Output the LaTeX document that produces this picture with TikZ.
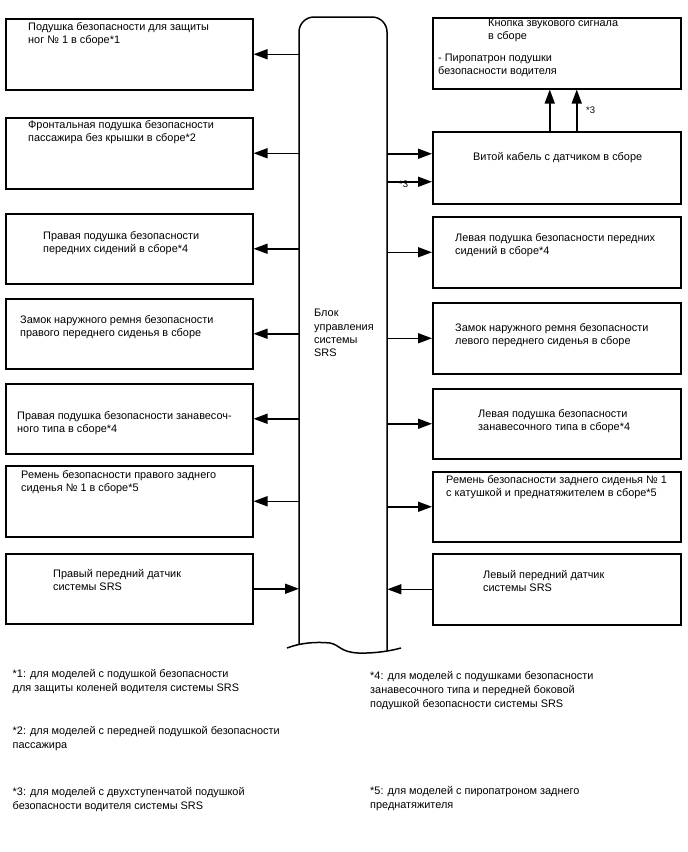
\documentclass[tikz,border=0pt]{standalone}
\usepackage{fontspec}
\setmainfont{Liberation Sans}
\usetikzlibrary{arrows.meta}
\begin{document}
\begin{tikzpicture}[x=1pt,y=-1pt,
  box/.style={draw, line width=1.5pt, rectangle, inner sep=0pt, anchor=north west},
  lbox/.style={box, minimum width=247pt, minimum height=71pt},
  rbox/.style={box, minimum width=248pt, minimum height=71pt},
  txt/.style={anchor=north west, inner sep=0pt, align=left, font=\fontsize{10.9}{13.7}\selectfont},
  note/.style={anchor=north west, inner sep=0pt, align=left, font=\fontsize{10.9}{14}\selectfont},
  arr/.style={line width=1.5pt, -{Triangle[length=14pt,width=10pt]}}
]
\useasboundingbox (0,0) rectangle (688,852);

% central block
\node[inner sep=0pt, minimum width=88pt, minimum height=634pt, anchor=north west] (ecu) at (299,17) {};
\draw[line width=1.5pt, rounded corners=15pt] (299,644) -- (299,17) -- (387,17) -- (387,651);
\draw[line width=1.5pt] (287,648) .. controls (300,643) and (315,641.5) .. (330,643)
   .. controls (340,645) and (340,652) .. (358,653)
   .. controls (375,653.5) and (390,651) .. (401,648);
\node[txt, font=\fontsize{10.9}{13.3}\selectfont] (ecut) at (314,309) {Блок\\управления\\системы\\SRS};

% left boxes
\node[lbox, minimum height=71pt] (l1) at (5,18) {};
\node[lbox] (l2) at (5,117) {};
\node[lbox, minimum height=70pt] (l3) at (5,213) {};
\node[lbox, minimum height=70pt] (l4) at (5,298) {};
\node[lbox, minimum height=70pt] (l5) at (5,383) {};
\node[lbox] (l6) at (5,465) {};
\node[lbox, minimum height=70pt] (l7) at (5,553) {};

\node[txt] (l1t) at (28,22) {Подушка безопасности для защиты\\ног № 1 в сборе*1};
\node[txt] (l2t) at (28,120) {Фронтальная подушка безопасности\\пассажира без крышки в сборе*2};
\node[txt] (l3t) at (43,231) {Правая подушка безопасности\\передних сидений в сборе*4};
\node[txt] (l4t) at (20,315) {Замок наружного ремня безопасности\\правого переднего сиденья в сборе};
\node[txt] (l5t) at (17,411) {Правая подушка безопасности занавесоч-\\ного типа в сборе*4};
\node[txt] (l6t) at (21,470) {Ремень безопасности правого заднего\\сиденья № 1 в сборе*5};
\node[txt] (l7t) at (53,569) {Правый передний датчик\\системы SRS};

% right boxes
\node[rbox] (horn) at (432,17) {};
\node[rbox, minimum height=72pt] (cable) at (432,131) {};
\node[rbox] (r3) at (432,216) {};
\node[rbox] (r4) at (432,302) {};
\node[rbox, minimum height=70pt] (r5) at (432,388) {};
\node[rbox, minimum height=70pt] (r6) at (432,471) {};
\node[rbox] (r7) at (432,553) {};

\node[txt, font=\fontsize{10.9}{12.5}\selectfont] (hornt1) at (488,19) {Кнопка звукового сигнала\\в сборе};
\node[txt, font=\fontsize{10.9}{13}\selectfont] (hornt2) at (438,54) {- Пиропатрон подушки\\безопасности водителя};
\node[txt] (cablet) at (473,152) {Витой кабель с датчиком в сборе};
\node[txt] (r3t) at (455,233) {Левая подушка безопасности передних\\сидений в сборе*4};
\node[txt] (r4t) at (455,323) {Замок наружного ремня безопасности\\левого переднего сиденья в сборе};
\node[txt] (r5t) at (478,409) {Левая подушка безопасности\\занавесочного типа в сборе*4};
\node[txt] (r6t) at (446,475) {Ремень безопасности заднего сиденья № 1\\с катушкой и преднатяжителем в сборе*5};
\node[txt] (r7t) at (483,570) {Левый передний датчик\\системы SRS};

% connectors left
\foreach \b in {l1,l2,l3,l4,l5,l6}{
  \draw[arr] (ecu.west |- \b.east) -- (\b.east);
}
\draw[arr] (l7.east) -- (ecu.west |- l7.east);

% connectors right
\foreach \b in {r3,r4,r5,r6}{
  \draw[arr] (ecu.east |- \b.west) -- (\b.west);
}
\draw[arr] (r7.west) -- (ecu.east |- r7.west);

\coordinate (c1) at ([yshift=14pt]cable.west);
\coordinate (c2) at ([yshift=-14pt]cable.west);
\draw[arr] (ecu.east |- c1) -- (c1);
\draw[arr] (ecu.east |- c2) -- (c2);
\node[note, font=\fontsize{9.5}{11}\selectfont] (s3a) at (399,181) {*3};

\coordinate (u1) at ([xshift=-7pt]cable.north);
\coordinate (u2) at ([xshift=20pt]cable.north);
\draw[arr] (u1) -- (u1 |- horn.south);
\draw[arr] (u2) -- (u2 |- horn.south);
\node[note, font=\fontsize{9.5}{11}\selectfont] (s3b) at (586,107) {*3};

% footnotes
\node[note] (f1) at (12.5,669.5) {*1: для моделей с подушкой безопасности\\для защиты коленей водителя системы SRS};
\node[note] (f2) at (12.5,726) {*2: для моделей с передней подушкой безопасности\\пассажира};
\node[note] (f3) at (12.5,787.5) {*3: для моделей с двухступенчатой подушкой\\безопасности водителя системы SRS};
\node[note] (f4) at (370,671.5) {*4: для моделей с подушками безопасности\\занавесочного типа и передней боковой\\подушкой безопасности системы SRS};
\node[note] (f5) at (370,786) {*5: для моделей с пиропатроном заднего\\преднатяжителя};
\end{tikzpicture}
\end{document}
